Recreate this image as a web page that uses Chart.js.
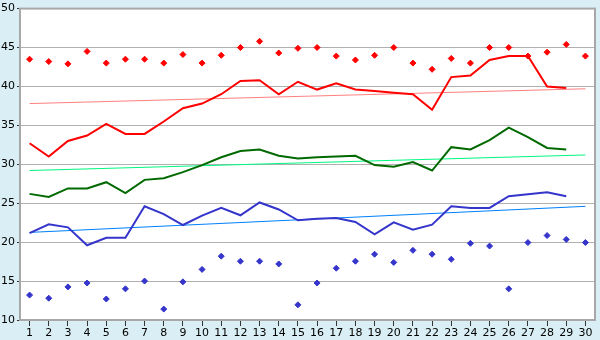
<!DOCTYPE html>
<html>
<head>
<meta charset="utf-8">
<script src="https://cdn.jsdelivr.net/npm/chart.js@4"></script>
<style>
html,body{margin:0;padding:0;background:#daeff5;}
#wrap{width:600px;height:340px;position:relative;}
</style>
</head>
<body>
<div id="wrap"><canvas id="c" width="600" height="340"></canvas></div>
<script>
const categories = ['1','2','3','4','5','6','7','8','9','10','11','12','13','14','15','16','17','18','19','20','21','22','23','24','25','26','27','28','29','30'];
const yTicks = [10,15,20,25,30,35,40,45,50];

const recordHigh = [43.5,43.2,42.9,44.5,43.0,43.5,43.5,43.0,44.1,43.0,44.0,45.0,45.8,44.3,44.9,45.0,43.9,43.4,44.0,45.0,43.0,42.2,43.6,43.0,45.0,45.0,43.9,44.4,45.4,43.9];
const maxTemp = [32.7,31.0,33.0,33.7,35.2,33.9,33.9,35.5,37.2,37.8,39.0,40.7,40.8,39.0,40.6,39.6,40.4,39.6,39.4,39.2,39.0,37.0,41.2,41.4,43.4,43.9,43.9,40.0,39.8,null];
const avgTemp = [26.2,25.8,26.9,26.9,27.7,26.3,28.0,28.2,29.0,29.9,30.9,31.7,31.9,31.1,30.75,30.9,31.0,31.1,29.9,29.7,30.3,29.2,32.2,31.9,33.1,34.7,33.5,32.1,31.9,null];
const minTemp = [21.15,22.3,21.9,19.6,20.55,20.55,24.6,23.6,22.2,23.4,24.4,23.45,25.1,24.2,22.8,23.0,23.1,22.6,21.0,22.55,21.6,22.25,24.6,24.4,24.4,25.9,26.15,26.4,25.9,null];
const recordLow = [13.2,12.8,14.25,14.75,12.7,14.0,15.0,11.4,14.9,16.5,18.2,17.55,17.55,17.2,11.95,14.75,16.65,17.55,18.45,17.4,18.95,18.45,17.8,19.85,19.5,14.0,19.95,20.85,20.35,19.95];
const maxTrendEnds = [37.8, 39.7];
const avgTrendEnds = [29.2, 31.2];
const minTrendEnds = [21.25, 24.6];

function ends(e){ return categories.map((c,i)=> i===0 ? e[0] : (i===categories.length-1 ? e[1] : null)); }

const bgPlugin = {
  id:'bg',
  beforeDraw(chart){
    const ctx = chart.ctx, a = chart.chartArea;
    ctx.save();
    ctx.fillStyle = '#daeff5';
    ctx.fillRect(0,0,chart.width,chart.height);
    ctx.fillStyle = '#ffffff';
    ctx.fillRect(a.left,a.top,a.right-a.left,a.bottom-a.top);
    ctx.restore();
  },
  afterDraw(chart){
    const ctx = chart.ctx, a = chart.chartArea;
    ctx.save();
    ctx.strokeStyle = '#a8a8a8';
    ctx.lineWidth = 2;
    ctx.strokeRect(a.left, a.top, a.right-a.left, a.bottom-a.top);
    ctx.restore();
  }
};

function trend(label, e, color){
  return {type:'line', label, data: ends(e), borderColor: color, borderWidth: 1, pointRadius: 0, spanGaps: true, fill:false, order: 5};
}
function line(label, d, color){
  return {type:'line', label, data: d, borderColor: color, backgroundColor: color, borderWidth: 2, pointRadius: 0, tension: 0, fill:false, order: 3};
}
function pts(label, d, color){
  return {type:'line', label, data: d, showLine:false, borderColor: color, backgroundColor: color, pointStyle:'rectRot', pointRadius: 3, pointBorderWidth: 1, order: 1};
}

new Chart(document.getElementById('c'), {
  type: 'line',
  data: {
    labels: categories,
    datasets: [
      trend('max trend', maxTrendEnds, '#ff8080'),
      trend('avg trend', avgTrendEnds, '#00f880'),
      trend('min trend', minTrendEnds, '#0080ff'),
      line('max', maxTemp, '#ff0000'),
      line('avg', avgTemp, '#006a00'),
      line('min', minTemp, '#3535cc'),
      pts('record high', recordHigh, '#ff0000'),
      pts('record low', recordLow, '#3535cc')
    ]
  },
  plugins: [bgPlugin],
  options: {
    responsive: false,
    animation: false,
    devicePixelRatio: 1,
    layout: { padding: { top: 5, right: 5, left: 0, bottom: 0 } },
    plugins: { legend: { display: false }, tooltip: { enabled: false } },
    scales: {
      x: {
        type: 'category',
        offset: true,
        grid: { display: true, drawOnChartArea: false, drawTicks: true, tickLength: 6, offset: false, color: '#333333' },
        border: { display: true, color: '#a8a8a8', width: 1 },
        ticks: { color: '#000', font: { family: 'DejaVu Sans', size: 11 }, padding: 1, maxRotation: 0, autoSkip: false },
        afterFit(s){ s.height = 20; }
      },
      y: {
        min: 10, max: 50,
        afterBuildTicks(s){ s.ticks = yTicks.map(v=>({value:v})); },
        grid: { color: '#b0b0b0', lineWidth: 1, drawTicks: true, tickLength: 3, tickColor: '#333333' },
        border: { display: true, color: '#a8a8a8', width: 1 },
        ticks: { color: '#000', font: { family: 'DejaVu Sans', size: 11 }, padding: 2 },
        afterFit(s){ s.width = 20; }
      }
    }
  }
});
</script>
</body>
</html>
